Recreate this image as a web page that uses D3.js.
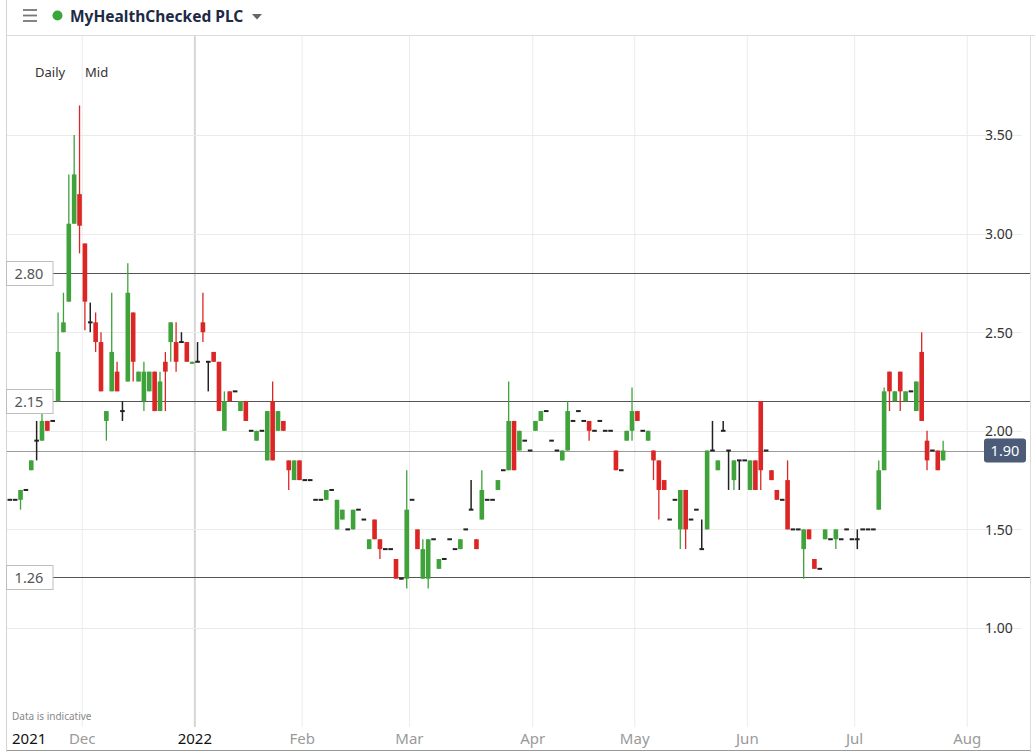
<!DOCTYPE html>
<html>
<head>
<meta charset="utf-8">
<script src="https://cdn.jsdelivr.net/npm/d3@7"></script>
<style>
  html, body { margin: 0; padding: 0; background: #fff; }
  svg { display: block; }
</style>
</head>
<body>
<svg id="chart" width="1035" height="752"></svg>
<script>
// ---------------- DATA ----------------
const title = "MyHealthChecked PLC";
const firstDate = "2021-11-11";
const holidays = ["2021-12-27","2021-12-28","2022-01-03","2022-04-15","2022-04-18","2022-05-02","2022-06-02","2022-06-03"];

const open = [
 1.65,1.65,1.65,1.70,1.80,1.95,1.95,2.05,2.05,2.15,2.50,2.655,3.05,3.20,2.95,2.55,2.55,2.45,2.05,2.20,
 2.30,2.10,2.25,2.60,2.25,2.15,2.20,2.30,2.10,2.35,2.45,2.45,2.45,2.45,2.34,2.35,2.55,2.35,2.40,2.35,
 2.00,2.20,2.20,2.10,2.15,2.00,1.95,2.00,1.85,2.15,2.00,2.05,1.85,1.75,1.85,1.75,1.75,1.65,1.65,1.65,
 1.70,1.50,1.55,1.50,1.50,1.60,1.55,1.40,1.55,1.45,1.40,1.40,1.35,1.25,1.25,1.65,1.50,1.25,1.25,1.45,
 1.30,1.35,1.45,1.40,1.40,1.50,1.60,1.45,1.55,1.65,1.65,1.70,1.80,1.80,2.05,1.90,1.95,1.90,2.00,2.05,
 2.10,1.95,1.90,1.85,1.90,2.05,2.10,2.05,2.05,2.00,2.05,2.00,2.00,1.90,1.80,1.95,2.00,2.10,2.00,1.95,
 1.90,1.85,1.75,1.55,1.65,1.50,1.70,1.55,1.60,1.40,1.50,1.90,1.80,2.00,1.90,1.75,1.85,1.85,1.70,1.85,
 2.15,1.90,1.80,1.70,1.65,1.75,1.50,1.50,1.40,1.50,1.35,1.30,1.45,1.45,1.45,1.45,1.50,1.45,1.45,1.50,
 1.50,1.50,1.60,1.80,2.30,2.15,2.30,2.15,2.20,2.10,2.40,1.95,1.90,1.90,1.85
];
const high = [
 1.65,1.65,1.70,1.70,1.85,2.05,2.09,2.05,2.05,2.60,2.70,3.30,3.50,3.65,2.95,2.65,2.60,2.50,2.10,2.70,
 2.35,2.15,2.85,2.60,2.30,2.35,2.30,2.30,2.30,2.40,2.55,2.55,2.50,2.45,2.35,2.45,2.70,2.35,2.40,2.35,
 2.20,2.20,2.20,2.15,2.15,2.00,2.00,2.00,2.10,2.25,2.10,2.05,1.85,1.85,1.85,1.75,1.75,1.65,1.65,1.70,
 1.70,1.65,1.60,1.50,1.60,1.60,1.55,1.45,1.55,1.45,1.40,1.40,1.35,1.25,1.80,1.65,1.50,1.45,1.45,1.45,
 1.35,1.35,1.45,1.40,1.45,1.50,1.75,1.45,1.80,1.65,1.65,1.75,1.80,2.25,2.05,2.00,1.95,1.90,2.05,2.10,
 2.10,1.95,1.90,1.90,2.15,2.05,2.10,2.05,2.05,2.00,2.05,2.00,2.00,1.90,1.80,2.00,2.22,2.10,2.00,2.00,
 1.90,1.85,1.75,1.55,1.65,1.70,1.70,1.55,1.60,1.55,1.90,2.05,1.85,2.05,1.90,1.85,1.85,1.85,1.85,1.85,
 2.15,1.90,1.80,1.70,1.65,1.85,1.50,1.50,1.50,1.50,1.35,1.30,1.50,1.45,1.50,1.45,1.50,1.45,1.50,1.50,
 1.50,1.50,1.85,2.22,2.30,2.20,2.30,2.20,2.20,2.25,2.50,2.00,1.90,1.90,1.95
];
const low = [
 1.65,1.65,1.60,1.70,1.80,1.85,1.95,2.00,2.05,2.15,2.50,2.655,3.05,2.90,2.51,2.50,2.40,2.20,1.95,2.20,
 2.20,2.05,2.25,2.25,2.25,2.10,2.20,2.10,2.10,2.10,2.35,2.30,2.45,2.35,2.34,2.35,2.45,2.20,2.35,2.10,
 2.00,2.15,2.20,2.10,2.05,2.00,1.95,2.00,1.85,1.85,2.00,2.00,1.70,1.75,1.75,1.75,1.75,1.65,1.65,1.65,
 1.70,1.50,1.55,1.50,1.50,1.60,1.55,1.40,1.45,1.35,1.40,1.40,1.25,1.25,1.20,1.65,1.40,1.25,1.20,1.45,
 1.30,1.35,1.45,1.40,1.40,1.50,1.60,1.40,1.55,1.65,1.65,1.70,1.80,1.80,1.80,1.90,1.95,1.90,2.00,2.05,
 2.10,1.95,1.90,1.85,1.90,2.05,2.10,2.05,1.95,2.00,2.05,2.00,2.00,1.80,1.80,1.95,1.95,2.05,2.00,1.95,
 1.75,1.55,1.70,1.55,1.65,1.40,1.40,1.55,1.60,1.40,1.50,1.90,1.80,2.00,1.70,1.70,1.70,1.85,1.70,1.70,
 1.70,1.90,1.75,1.65,1.65,1.50,1.50,1.50,1.25,1.45,1.30,1.30,1.45,1.45,1.40,1.45,1.50,1.45,1.40,1.50,
 1.50,1.50,1.60,1.80,2.10,2.15,2.10,2.15,2.20,2.10,2.05,1.80,1.90,1.80,1.85
];
const close = [
 1.65,1.65,1.70,1.70,1.85,1.95,2.05,2.00,2.05,2.40,2.55,3.05,3.30,3.04,2.655,2.55,2.45,2.20,2.10,2.40,
 2.20,2.10,2.70,2.35,2.30,2.30,2.30,2.10,2.25,2.30,2.55,2.35,2.45,2.35,2.35,2.35,2.50,2.35,2.35,2.10,
 2.15,2.15,2.20,2.15,2.05,2.00,2.00,2.00,2.10,1.85,2.10,2.00,1.80,1.85,1.75,1.75,1.75,1.65,1.65,1.70,
 1.70,1.65,1.60,1.50,1.60,1.60,1.55,1.45,1.45,1.40,1.40,1.40,1.25,1.25,1.60,1.65,1.40,1.40,1.45,1.45,
 1.35,1.35,1.45,1.40,1.45,1.50,1.60,1.40,1.70,1.65,1.65,1.75,1.80,2.05,1.80,2.00,1.95,1.90,2.05,2.10,
 2.10,1.95,1.90,1.90,2.10,2.05,2.10,2.05,2.00,2.00,2.05,2.00,2.00,1.80,1.80,2.00,2.10,2.05,2.00,2.00,
 1.85,1.70,1.70,1.55,1.65,1.70,1.50,1.55,1.60,1.40,1.90,1.90,1.85,2.00,1.90,1.85,1.85,1.85,1.85,1.70,
 1.80,1.90,1.75,1.65,1.65,1.50,1.50,1.50,1.50,1.45,1.30,1.30,1.50,1.45,1.50,1.45,1.50,1.45,1.45,1.50,
 1.50,1.50,1.80,2.20,2.20,2.20,2.20,2.20,2.20,2.25,2.05,1.85,1.90,1.80,1.90
];

const yTicks = [1.00, 1.50, 2.00, 2.50, 3.00, 3.50];
const levelLines = [2.80, 2.15, 1.26];
const lastPrice = 1.90;
const monthLabels = [
  {month: "2021-11", label: "2021", year: true},
  {month: "2021-12", label: "Dec"},
  {month: "2022-01", label: "2022", year: true},
  {month: "2022-02", label: "Feb"},
  {month: "2022-03", label: "Mar"},
  {month: "2022-04", label: "Apr"},
  {month: "2022-05", label: "May"},
  {month: "2022-06", label: "Jun"},
  {month: "2022-07", label: "Jul"},
  {month: "2022-08", label: "Aug"}
];

// ---------------- TRADING CALENDAR ----------------
const fmt = d3.timeFormat("%Y-%m-%d");
const parse = d3.timeParse("%Y-%m-%d");
const totalSlots = 191;
const days = [];
{
  let d = parse(firstDate);
  while (days.length < totalSlots) {
    const wd = d.getDay();
    const s = fmt(d);
    if (wd !== 0 && wd !== 6 && !holidays.includes(s)) days.push(s);
    d = d3.timeDay.offset(d, 1);
  }
}
const candles = open.map((o, i) => ({date: days[i], i, o, h: high[i], l: low[i], c: close[i]}));

// ---------------- LAYOUT ----------------
const W = 1035, H = 752;
const svg = d3.select("#chart");
const font = "'Noto Sans', 'DejaVu Sans', sans-serif";

const x = d3.scaleBand().domain(days).range([7.5, 7.5 + 5.36 * totalSlots]).paddingInner(0.14).paddingOuter(0);
const step = x.step();
const cx = d => x(d) + x.bandwidth() / 2;
const y = d3.scaleLinear().domain([1, 3.5]).range([628, 135]);

// header
svg.append("rect").attr("x", 0).attr("y", 0).attr("width", W).attr("height", H).attr("fill", "#fff");
svg.append("line").attr("x1", 6).attr("x2", W).attr("y1", 35.5).attr("y2", 35.5).attr("stroke", "#dcdcdc");
svg.append("line").attr("x1", 6.5).attr("x2", 6.5).attr("y1", 0).attr("y2", H).attr("stroke", "#d4d4d4");
[10, 15.5, 21].forEach(yy => svg.append("line").attr("x1", 23).attr("x2", 37).attr("y1", yy).attr("y2", yy)
  .attr("stroke", "#777").attr("stroke-width", 1.8));
svg.append("circle").attr("cx", 57.5).attr("cy", 15.5).attr("r", 5).attr("fill", "#3aa53a");
svg.append("text").attr("x", 70).attr("y", 21.5).text(title)
  .attr("font-family", font).attr("font-size", 15.5).attr("font-weight", 700).attr("fill", "#1c2a45");
svg.append("path").attr("d", "M252,14 L262,14 L257,19.5 Z").attr("fill", "#666");

// plot grid
const gGrid = svg.append("g");
const monthIdx = monthLabels.map(m => {
  const idx = days.findIndex(d => d.startsWith(m.month));
  return Object.assign({}, m, {pos: idx >= 0 ? x(days[idx]) - (step - x.bandwidth()) / 2 : null, idx});
});
monthIdx.forEach(m => {
  if (m.month === "2021-11") return;
  const isYear = m.year;
  gGrid.append("line").attr("x1", m.pos).attr("x2", m.pos).attr("y1", 36).attr("y2", 727)
    .attr("stroke", isYear ? "#d6d6d6" : "#ececec").attr("stroke-width", isYear ? 2 : 1);
});
yTicks.forEach(t => {
  gGrid.append("line").attr("x1", 7).attr("x2", 1022).attr("y1", Math.round(y(t)) + 0.5).attr("y2", Math.round(y(t)) + 0.5)
    .attr("stroke", "#ebebeb").attr("stroke-width", 1.2);
});
svg.append("line").attr("x1", 1030.5).attr("x2", 1030.5).attr("y1", 36).attr("y2", H).attr("stroke", "#dcdcdc");

// y axis labels
const yAxis = d3.axisRight(y).tickValues(yTicks).tickFormat(d3.format(".2f")).tickSize(0).tickPadding(0);
const gy = svg.append("g").attr("transform", "translate(985,0)").call(yAxis);
gy.select(".domain").remove();
gy.selectAll("text").attr("font-family", font).attr("font-size", 14).attr("fill", "#333").attr("dy", "0.35em");

// last price line
svg.append("line").attr("x1", 7).attr("x2", 984).attr("y1", Math.round(y(lastPrice)) + 0.5).attr("y2", Math.round(y(lastPrice)) + 0.5)
  .attr("stroke", "#9a9a9a").attr("stroke-width", 1);

// level lines
levelLines.forEach(v => {
  const yy = Math.round(y(v)) + 0.5;
  svg.append("line").attr("x1", 53).attr("x2", 1030).attr("y1", yy).attr("y2", yy).attr("stroke", "#555").attr("stroke-width", 1.1);
});

// candles
const gC = svg.append("g");
const colorOf = d => d.c > d.o ? "#3fa23b" : (d.c < d.o ? "#dc2525" : "#222");
const bw = x.bandwidth();
candles.forEach(d => {
  const col = colorOf(d);
  const xc = cx(d.date);
  if (d.h > d.l) {
    gC.append("line").attr("x1", xc).attr("x2", xc).attr("y1", y(d.h)).attr("y2", y(d.l))
      .attr("stroke", col).attr("stroke-width", d.c === d.o ? 1.5 : 1.3);
  }
  if (d.c !== d.o) {
    const top = y(Math.max(d.o, d.c)), bot = y(Math.min(d.o, d.c));
    gC.append("rect").attr("x", x(d.date)).attr("y", top).attr("width", bw).attr("height", Math.max(1, bot - top)).attr("fill", col);
  } else {
    gC.append("rect").attr("x", x(d.date)).attr("y", y(d.o) - 1).attr("width", bw).attr("height", 2).attr("fill", "#222");
  }
});

// level labels (left)
levelLines.forEach(v => {
  const yy = Math.round(y(v)) + 0.5;
  svg.append("rect").attr("x", 6.5).attr("y", yy - 12).attr("width", 46.5).attr("height", 24)
    .attr("fill", "#fff").attr("stroke", "#bdbdbd");
  svg.append("text").attr("x", 29).attr("y", yy).attr("dy", "0.35em").attr("text-anchor", "middle")
    .text(d3.format(".2f")(v)).attr("font-family", font).attr("font-size", 14.5).attr("fill", "#555");
});

// last price label
{
  const yy = y(lastPrice);
  svg.append("rect").attr("x", 984).attr("y", yy - 12).attr("width", 42).attr("height", 24).attr("rx", 3)
    .attr("fill", "#4b5b78");
  svg.append("text").attr("x", 1005).attr("y", yy).attr("dy", "0.36em").attr("text-anchor", "middle")
    .text(d3.format(".2f")(lastPrice)).attr("font-family", font).attr("font-size", 14.5).attr("fill", "#fff");
}

// texts
svg.append("text").attr("x", 35).attr("y", 77).text("Daily").attr("font-family", font).attr("font-size", 13).attr("fill", "#333");
svg.append("text").attr("x", 85).attr("y", 77).text("Mid").attr("font-family", font).attr("font-size", 13).attr("fill", "#333");
svg.append("text").attr("x", 12).attr("y", 720).text("Data is indicative").attr("font-family", font).attr("font-size", 10).attr("fill", "#888");

// x labels
monthIdx.forEach(m => {
  const t = svg.append("text").attr("y", 744).text(m.label).attr("font-family", font).attr("font-size", 15)
    .attr("fill", m.year ? "#111" : "#9a9a9a");
  if (m.month === "2021-11") t.attr("x", 12);
  else t.attr("x", m.pos).attr("text-anchor", "middle");
});
svg.append("line").attr("x1", 7).attr("x2", 1030).attr("y1", 750.5).attr("y2", 750.5).attr("stroke", "#999");
</script>
</body>
</html>
